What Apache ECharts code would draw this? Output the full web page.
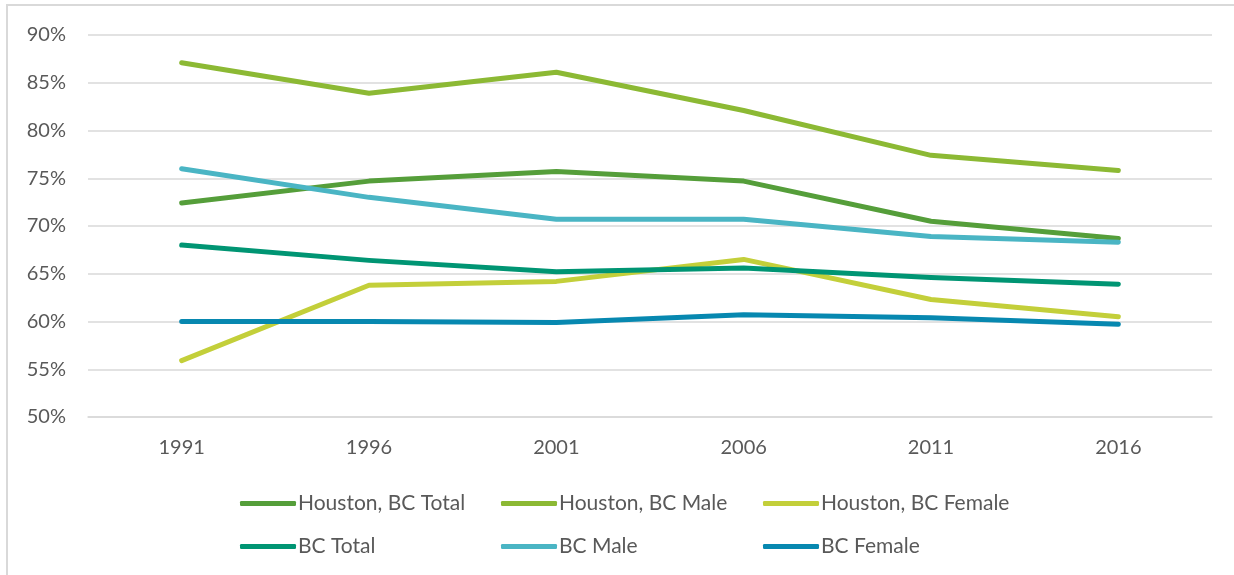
<!DOCTYPE html>
<html>
<head>
    <meta charset="utf-8">
    <script src="https://cdn.jsdelivr.net/npm/echarts@6/dist/echarts.min.js"></script>
    <style>
        html, body { margin: 0; padding: 0; background: #fff; }
        #main { width: 1234px; height: 575px; }
    </style>
</head>
<body>
<div id="main"></div>
<script type="text/javascript">
    // data (percent)
    var years = ['1991', '1996', '2001', '2006', '2011', '2016'];
    var houstonTotal = [72.4, 74.7, 75.7, 74.7, 70.5, 68.7];
    var houstonMale = [87.1, 83.9, 86.1, 82.1, 77.4, 75.8];
    var houstonFemale = [55.9, 63.8, 64.2, 66.5, 62.3, 60.5];
    var bcTotal = [68.0, 66.4, 65.2, 65.6, 64.6, 63.9];
    var bcMale = [76.0, 73.0, 70.7, 70.7, 68.9, 68.3];
    var bcFemale = [60.0, 60.0, 59.9, 60.7, 60.4, 59.7];

    var names = ['Houston, BC Total', 'Houston, BC Male', 'Houston, BC Female',
                 'BC Total', 'BC Male', 'BC Female'];
    var values = [houstonTotal, houstonMale, houstonFemale, bcTotal, bcMale, bcFemale];
    var colors = ['#559e3a', '#8cb934', '#c3cf3a', '#009573', '#4ab5c4', '#0788b0'];

    var font = 'Lato';
    var textColor = '#595959';

    // one legend per item so the columns line up like the original
    var legendLeft = [240, 501, 763];
    var legendTop = [493, 536];

    function legendItem(name, i) {
        return {
            data: [name],
            left: legendLeft[i % 3],
            top: legendTop[Math.floor(i / 3)],
            padding: 0,
            icon: 'roundRect',
            itemWidth: 56,
            itemHeight: 5,
            selectedMode: false,
            textStyle: {
                fontFamily: font,
                fontSize: 21,
                color: textColor,
                padding: [0, 0, 0, -3]
            }
        };
    }

    var series = names.map(function (n, i) {
        return {
            name: n,
            type: 'line',
            data: values[i],
            symbol: 'none',
            color: colors[i],
            lineStyle: { width: 5, cap: 'round', join: 'round' }
        };
    });

    var myChart = echarts.init(document.getElementById('main'));
    var opt = {
        animation: false,
        graphic: [{
            type: 'rect',
            shape: { x: 7, y: 5, width: 1300, height: 700 },
            style: { fill: 'none', stroke: '#d9d9d9', lineWidth: 2 },
            silent: true
        }],
        legend: names.map(legendItem),
        grid: { left: 88, right: 22, top: 35, bottom: 158 },
        xAxis: {
            type: 'category',
            data: years,
            boundaryGap: true,
            axisLine: { lineStyle: { color: '#d9d9d9', width: 1.5 } },
            axisTick: { show: false },
            axisLabel: { fontFamily: font, fontSize: 20, color: textColor, margin: 21 }
        },
        yAxis: {
            type: 'value',
            min: 50,
            max: 90,
            interval: 5,
            axisLine: { show: false },
            axisTick: { show: false },
            splitLine: { lineStyle: { color: '#d9d9d9', width: 1.5 } },
            axisLabel: {
                fontFamily: font, fontSize: 20, color: textColor, margin: 22,
                formatter: '{value}%'
            }
        },
        series: series
    };

    myChart.setOption(option = opt);
</script>
</body>
</html>
